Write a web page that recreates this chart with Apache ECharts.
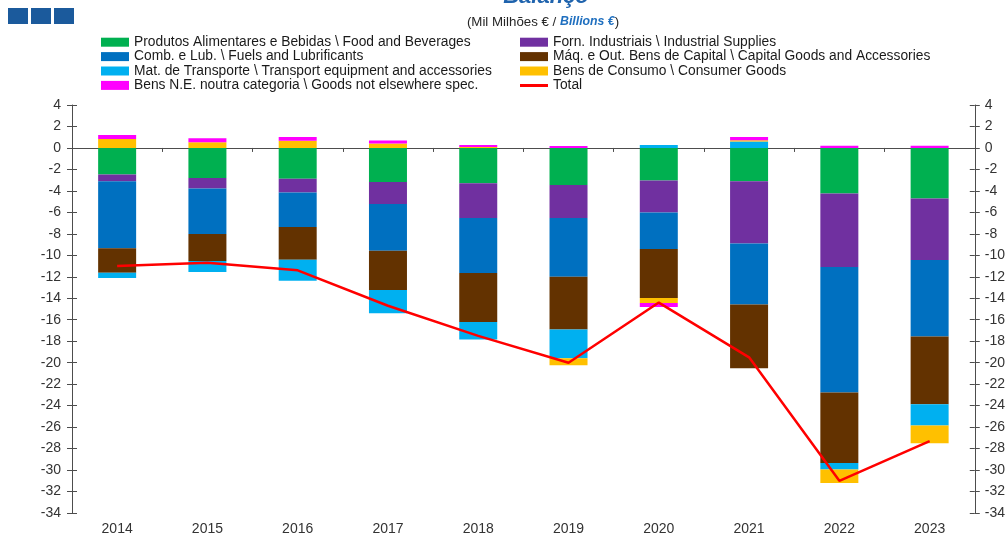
<!DOCTYPE html>
<html>
<head>
<meta charset="utf-8">
<script src="https://cdn.jsdelivr.net/npm/echarts@6/dist/echarts.min.js"></script>
<style>
html,body{margin:0;padding:0;background:#fff;}
#c{width:1008px;height:536px;}
</style>
</head>
<body>
<div id="c"></div>
<script>
const years = ['2014','2015','2016','2017','2018','2019','2020','2021','2022','2023'];
const food      = [-2.48,-2.79,-2.88,-3.16,-3.28,-3.44,-3.03,-3.10,-4.25,-4.71];
const industrial= [-0.62,-0.99,-1.27,-2.07,-3.25,-3.09,-2.98,-5.79,-6.84,-5.73];
const fuels     = [-6.25,-4.24,-3.22,-4.34,-5.12,-5.46,-3.41,-5.70,-11.68,-7.13];
const capital   = [-2.27,-2.51,-3.04,-3.66,-4.55,-4.92,-4.55,-5.92,-6.57,-6.31];
const transport = [-0.50,-1.02,-1.95,-2.17,-1.64,-2.67,0.28,0.60,-0.62,-1.98];
const consumer  = [0.84,0.53,0.68,0.42,0.08,-0.65,-0.47,0.12,-1.24,-1.65];
const other     = [0.37,0.37,0.34,0.28,0.20,0.19,-0.37,0.30,0.21,0.21];
const total     = [-11.0,-10.7,-11.4,-14.7,-17.5,-20.0,-14.4,-19.5,-31.0,-27.3];

const names = {
  food: 'Produtos Alimentares e Bebidas \\ Food and Beverages',
  industrial: 'Forn. Industriais \\ Industrial Supplies',
  fuels: 'Comb. e Lub. \\ Fuels and Lubrificants',
  capital: 'Máq. e Out. Bens de Capital \\ Capital Goods and Accessories',
  transport: 'Mat. de Transporte \\ Transport equipment and accessories',
  consumer: 'Bens de Consumo \\ Consumer Goods',
  other: 'Bens N.E. noutra categoria \\ Goods not elsewhere spec.',
  total: 'Total'
};
const colors = {
  food:'#00b050', industrial:'#7030a0', fuels:'#0070c0', capital:'#633200',
  transport:'#00b0f0', consumer:'#ffc000', other:'#ff00ff', total:'#ff0000'
};

const FONT = 'Liberation Sans, Arial, sans-serif';
const chart = echarts.init(document.getElementById('c'), null, {renderer:'canvas'});

function bar(key, data){
  return {
    name: names[key], type:'bar', stack:'s', data:data,
    xAxisIndex:0, yAxisIndex:0, barWidth:38,
    itemStyle:{color:colors[key]}, emphasis:{disabled:true}
  };
}

const legendText = {fontFamily:FONT, fontSize:13.8, color:'#1a1a1a', lineHeight:14.4};
const lineIcon = 'path://M0,3.2h28v2.8h-28z M0,0h0.01v0.01h-0.01z M0,9h0.01v0.01h-0.01z';

const option = {
  animation:false,
  textStyle:{fontFamily:FONT},
  graphic:[
    {type:'rect', shape:{x:8,y:8,width:20,height:16}, style:{fill:'#1b5a9c'}},
    {type:'rect', shape:{x:31,y:8,width:20,height:16}, style:{fill:'#1b5a9c'}},
    {type:'rect', shape:{x:54,y:8,width:20,height:16}, style:{fill:'#1b5a9c'}},
    {type:'text', x:546, y:-14, style:{text:'Balanço', font:'italic bold 22px '+FONT, fill:'#1f63ad', textAlign:'center', textVerticalAlign:'top'}},
    {type:'text', x:543, y:22, style:{
      text:'(Mil Milhões € / {b|Billions €})',
      font:'13.3px '+FONT, fill:'#262626', textAlign:'center', textVerticalAlign:'middle',
      rich:{b:{fontFamily:FONT, fontSize:12.3, fontWeight:'bold', fontStyle:'italic', fill:'#1f6fbf', color:'#1f6fbf'}}
    }}
  ],
  legend:[
    {orient:'vertical', left:101, top:35, padding:0, itemWidth:28, itemHeight:9, itemGap:0,
     textStyle:legendText, selectedMode:false,
     data:[{name:names.food,icon:'rect'},{name:names.fuels,icon:'rect'},{name:names.transport,icon:'rect'},{name:names.other,icon:'rect'}]},
    {orient:'vertical', left:520, top:35, padding:0, itemWidth:28, itemHeight:9, itemGap:0,
     textStyle:legendText, selectedMode:false,
     data:[{name:names.industrial,icon:'rect'},{name:names.capital,icon:'rect'},{name:names.consumer,icon:'rect'},{name:names.total,icon:lineIcon}]}
  ],
  grid:{left:72, right:31, top:105, bottom:22, containLabel:false},
  xAxis:[
    {type:'category', data:years, position:'bottom',
     axisLine:{show:true, onZero:true, onZeroAxisIndex:0, lineStyle:{color:'#4d4d4d', width:1}},
     axisTick:{show:true, length:4, lineStyle:{color:'#4d4d4d'}},
     axisLabel:{show:false}, splitLine:{show:false}},
    {type:'category', data:years, position:'bottom',
     axisLine:{show:false, onZero:false}, axisTick:{show:false},
     axisLabel:{show:true, margin:9, fontSize:14, color:'#333', fontFamily:FONT}}
  ],
  yAxis:[
    {type:'value', min:-34, max:4, interval:2, position:'left',
     axisLine:{show:true, lineStyle:{color:'#4d4d4d'}},
     axisTick:{show:true, length:5, lineStyle:{color:'#4d4d4d'}},
     axisLabel:{margin:11, fontSize:14, color:'#333', fontFamily:FONT},
     splitLine:{show:false}},
    {type:'value', min:-34, max:4, interval:2, position:'right',
     axisLine:{show:true, lineStyle:{color:'#4d4d4d'}},
     axisTick:{show:true, length:5, lineStyle:{color:'#4d4d4d'}},
     axisLabel:{margin:10, fontSize:14, color:'#333', fontFamily:FONT},
     splitLine:{show:false}},
    {type:'value', min:-34, max:4, interval:2, position:'left',
     axisLine:{show:false}, axisTick:{show:true, inside:true, length:5, lineStyle:{color:'#4d4d4d'}},
     axisLabel:{show:false}, splitLine:{show:false}},
    {type:'value', min:-34, max:4, interval:2, position:'right',
     axisLine:{show:false}, axisTick:{show:true, inside:true, length:5, lineStyle:{color:'#4d4d4d'}},
     axisLabel:{show:false}, splitLine:{show:false}}
  ],
  series:[
    bar('food', food),
    bar('industrial', industrial),
    bar('fuels', fuels),
    bar('capital', capital),
    bar('transport', transport),
    bar('consumer', consumer),
    bar('other', other),
    {name:names.total, type:'line', data:total, xAxisIndex:0, yAxisIndex:0,
     symbol:'none', showSymbol:false, z:5,
     lineStyle:{color:colors.total, width:2.5}, itemStyle:{color:colors.total},
     emphasis:{disabled:true}}
  ]
};
chart.setOption(option);
</script>
</body>
</html>
